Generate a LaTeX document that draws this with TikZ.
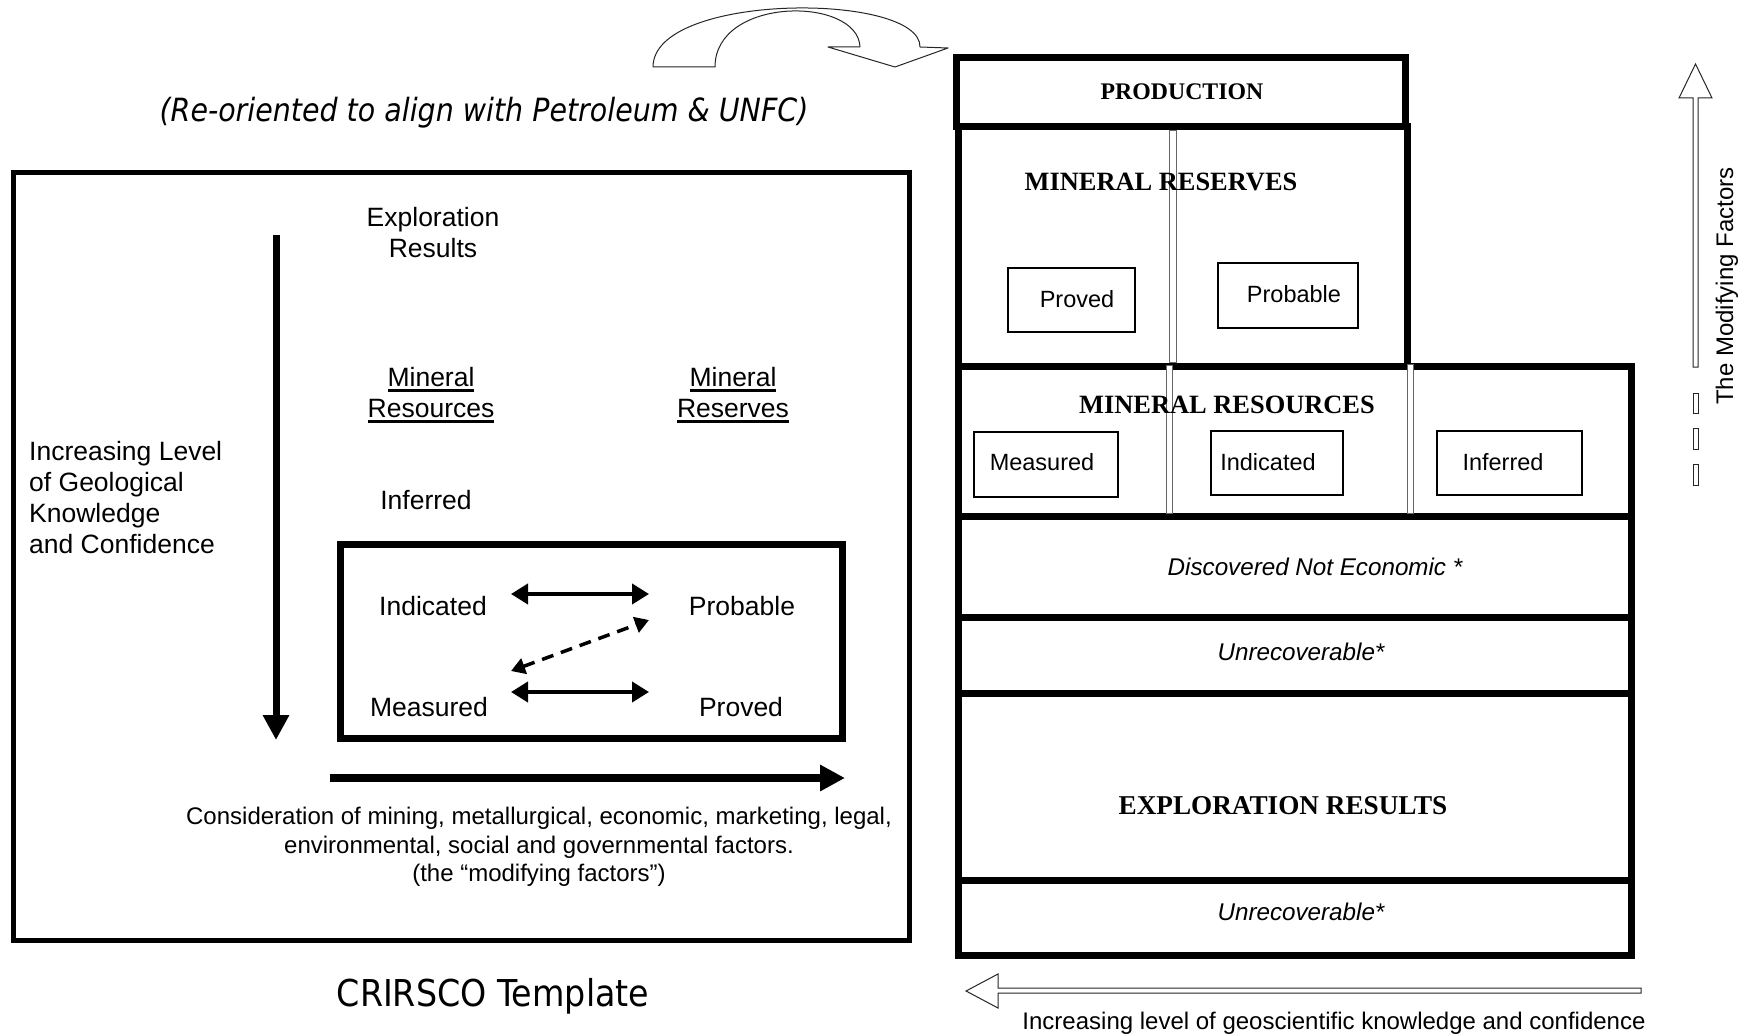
\documentclass[tikz,border=0pt]{standalone}
\usepackage{fontspec}
\usepackage{graphicx}
\setmainfont{Liberation Sans}
\newfontfamily\tnr{Liberation Serif}
\newfontfamily\tahoma{DejaVu Sans}
\usetikzlibrary{arrows.meta}

\newcommand\fs[2]{\fontsize{#1}{#2}\selectfont}
% word with a heavy underline
\newcommand\ulword[1]{\setbox0\hbox{#1}\rlap{\rule[-5pt]{\wd0}{2.4pt}}\box0}

\tikzset{
  txt/.style={inner sep=0pt, align=center, font=\fs{26.5}{31}},
  rtxt/.style={inner sep=0pt, font=\fs{23.5}{28}},
  caps/.style={inner sep=0pt, font=\tnr\bfseries\fs{26.4}{30}},
  itx/.style={inner sep=0pt, font=\itshape\fs{24.2}{28}},
  thickbox/.style={line width=7pt},
  smallbox/.style={line width=1.3pt},
  divider/.style={fill=white, draw=black!60, line width=1pt},
  outl/.style={fill=white, draw=black!85, line width=1pt, line join=miter},
  bigarrow/.style={line width=7pt, -{Triangle[length=25pt,width=25pt]}},
  duoarrow/.style={line width=4pt, {Triangle[length=17pt,width=20pt]}-{Triangle[length=17pt,width=20pt]}},
  dasharrow/.style={line width=3.5pt, dash pattern=on 12pt off 8pt,
    {Triangle[length=14pt,width=16pt]}-{Triangle[length=14pt,width=16pt]}}
}

\begin{document}
\begin{tikzpicture}[x=1pt,y=-1pt]
\fill[white] (0,0) rectangle (1751,1035);
\useasboundingbox (0,0) rectangle (1751,1035);

% ---------------- left panel: CRIRSCO template ----------------
\node[inner sep=0pt, font=\tahoma\itshape\fs{32}{36}] (reor) at (484,113)
  {\scalebox{0.89}[1]{(Re-oriented to align with Petroleum \& UNFC)}};

\draw[line width=5pt] (13,173) rectangle (909,940);
\draw[line width=7pt] (340,544) rectangle (842,738);

\coordinate (vtop) at (276,235);
\coordinate (vend) at (276,740);
\draw[bigarrow] (vtop) -- (vend);

\coordinate (hstart) at (330,778);
\coordinate (hend) at (845,778);
\draw[bigarrow, line width=8pt] (hstart) -- (hend);

\node[txt] (explr) at (433,233) {Exploration\\Results};
\node[txt] (minres) at (431,395) {\ulword{Mineral}\\\ulword{Resources}};
\node[txt] (minrsv) at (733,395) {\ulword{Mineral}\\\ulword{Reserves}};
\node[txt] (infl) at (426,500) {Inferred};
\node[txt, align=left, anchor=west] (incr) at (29,498)
  {Increasing Level\\of Geological\\Knowledge\\and Confidence};

\node[txt] (indl) at (433,606) {Indicated};
\node[txt] (prbl) at (742,606) {Probable};
\node[txt] (measl) at (429,707) {Measured};
\node[txt] (provl) at (741,707) {Proved};

\coordinate (a1) at (511,594);
\coordinate (a2) at (649,594);
\coordinate (b1) at (511,692);
\coordinate (b2) at (649,692);
\coordinate (c1) at (511,671);
\coordinate (c2) at (649,620);
\draw[duoarrow] (a1) -- (a2);
\draw[duoarrow] (b1) -- (b2);
\draw[dasharrow] (c1) -- (c2);

\node[inner sep=0pt, align=center, font=\fs{24}{28.5}] (consid) at (539,847)
  {Consideration of mining, metallurgical, economic, marketing, legal,\\
   environmental, social and governmental factors.\\
   (the “modifying factors”)};

\node[inner sep=0pt, font=\tahoma\fs{37}{40}] (crir) at (493,996)
  {\scalebox{0.9}[1]{CRIRSCO Template}};

% ---------------- curved block arrow over the top ----------------
\draw[outl, line join=round] (715,67) -- (653,67)
  .. controls (653,-8) and (921,-8) .. (920,47)
  -- (948,48) -- (895,67) -- (828,47) -- (860,47)
  .. controls (858,-4) and (715,-4) .. (715,67) -- cycle;

% ---------------- right panel: classification stack ----------------
\draw[thickbox] (958,693) rectangle (1631,880);
\draw[thickbox] (958,880) rectangle (1631,955);
\draw[thickbox] (958,617) rectangle (1631,693);
\draw[thickbox] (958,516) rectangle (1631,617);
\draw[thickbox] (958,366) rectangle (1631,516);
\draw[thickbox] (958,127) rectangle (1407,366);
\draw[thickbox] (956,58) rectangle (1405,127);

\draw[divider] (1169,131) rectangle (1176,362);
\draw[divider] (1166,365) rectangle (1172,513);
\draw[divider] (1407,364) rectangle (1413,513);

\node[caps, font=\tnr\bfseries\fs{23.8}{28}] (prod) at (1182,92) {PRODUCTION};
\node[caps] (mrsv) at (1161,182) {MINERAL RESERVES};
\node[caps] (mres) at (1227,405) {MINERAL RESOURCES};
\node[caps, font=\tnr\bfseries\fs{27.2}{30}] (expl) at (1283,806) {EXPLORATION RESULTS};
\node[itx] (dne) at (1315,567) {Discovered Not Economic *};
\node[itx] (unr1) at (1301,652) {Unrecoverable*};
\node[itx] (unr2) at (1301,912) {Unrecoverable*};

\draw[smallbox] (1008,268) rectangle (1135,332);
\draw[smallbox] (1218,263) rectangle (1358,328);
\draw[smallbox] (974,432) rectangle (1118,497);
\draw[smallbox] (1211,431) rectangle (1343,495);
\draw[smallbox] (1437,431) rectangle (1582,495);
\node[rtxt] (provr) at (1077,299) {Proved};
\node[rtxt] (prbr) at (1294,294) {Probable};
\node[rtxt] (measr) at (1042,462) {Measured};
\node[rtxt] (indr) at (1268,462) {Indicated};
\node[rtxt] (infr) at (1503,462) {Inferred};

% modifying factors: hollow arrow pointing up, with dashes below
\draw[outl] (1693,367) -- (1693,98) -- (1679,98) -- (1695.5,64) -- (1712,98)
  -- (1698,98) -- (1698,367) -- cycle;
\draw[outl] (1693,393) rectangle (1698,413);
\draw[outl] (1693,428) rectangle (1698,449);
\draw[outl] (1693,464) rectangle (1698,485);
\node[rtxt, font=\fs{24}{28}, rotate=90] (modf) at (1727,286) {The Modifying Factors};

% knowledge and confidence: hollow arrow pointing left
\draw[outl] (1641,988) -- (998,988) -- (998,974) -- (966,991) -- (998,1008)
  -- (998,993) -- (1641,993) -- cycle;
\node[rtxt, font=\fs{24}{28}] (incg) at (1334,1023)
  {Increasing level of geoscientific knowledge and confidence};
\end{tikzpicture}
\end{document}
